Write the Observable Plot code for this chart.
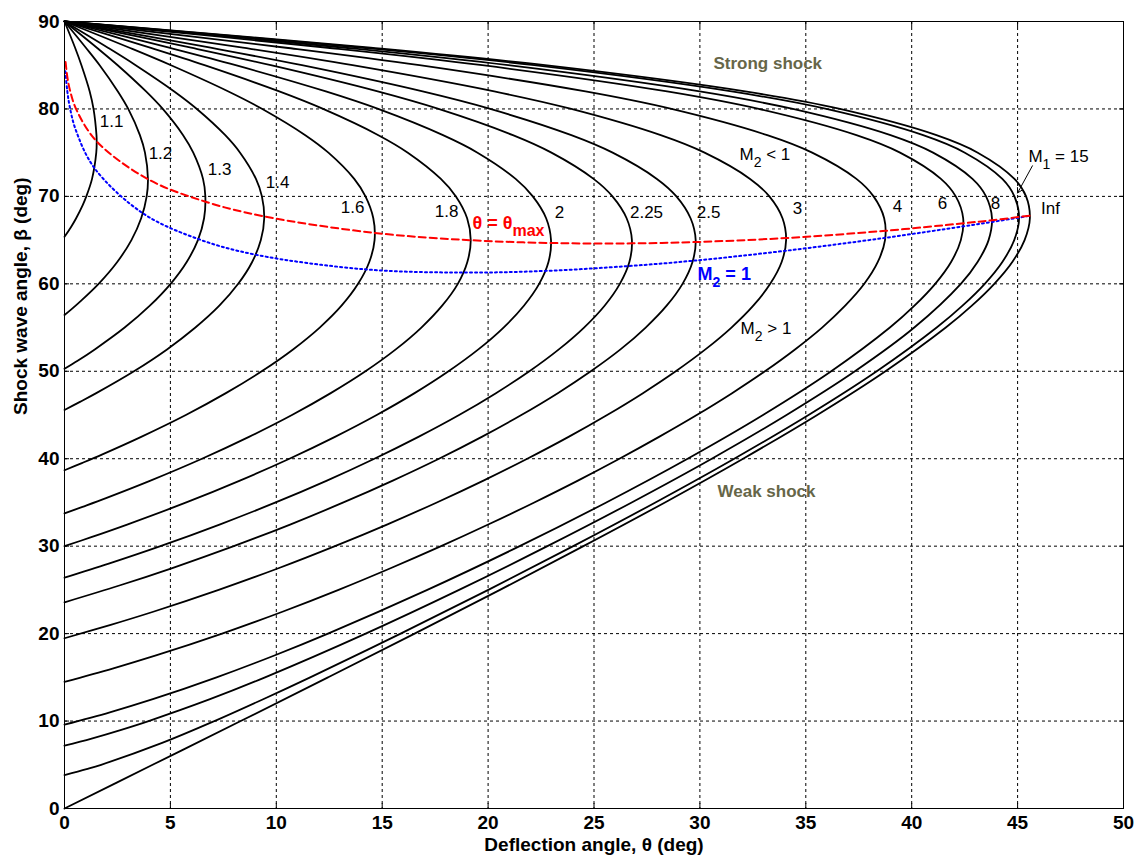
<!DOCTYPE html>
<html>
<head>
<meta charset="utf-8">
<script src="https://cdn.jsdelivr.net/npm/d3@7"></script>
<script src="https://cdn.jsdelivr.net/npm/@observablehq/plot@0.6"></script>
<style>
  html, body { margin: 0; padding: 0; background: #ffffff; }
</style>
</head>
<body>
<div id="chart"></div>
<script>
// ---- Data: oblique-shock curves, [deflection angle θ, shock angle β] pairs ----
const machLabels = ["1.1", "1.2", "1.3", "1.4", "1.6", "1.8", "2", "2.25", "2.5", "3", "4", "6", "8", "15", "Inf"];

const curve_1_1 = [[0,90],[0.50,87],[0.80,85],[1.19,82],[1.37,80],[1.51,77],[1.52,76.3],[1.50,75],[1.30,72],[1.03,70],[0.86,69],[0.55,67.5],[0.31,66.5],[0,65.38]];
const curve_1_2 = [[0,90],[1.01,87],[1.66,85],[2.52,82],[3.01,80],[3.56,77],[3.80,75],[3.94,72],[3.88,70],[3.62,67.5],[3.16,65],[2.49,62.5],[1.61,60],[0.75,58],[0.28,57],[0,56.44]];
const curve_1_3 = [[0,90],[1.53,87],[2.51,85],[3.85,82],[4.64,80],[5.60,77],[6.08,75],[6.54,72],[6.65,70],[6.59,67.5],[6.30,65],[5.77,62.5],[5.01,60],[4.03,57.5],[2.84,55],[1.43,52.5],[0.62,51.2],[0,50.28]];
const curve_1_4 = [[0,90],[2.05,87],[3.36,85],[5.18,82],[6.25,80],[7.59,77],[8.29,75],[9.04,72],[9.32,70],[9.43,67.5],[9.27,65],[8.86,62.5],[8.20,60],[7.31,57.5],[6.18,55],[4.84,52.5],[3.28,50],[1.50,47.5],[0.73,46.5],[0,45.58]];
const curve_1_6 = [[0,90],[3.07,87],[5.03,85],[7.74,82],[9.34,80],[11.37,77],[12.46,75],[13.68,72],[14.21,70],[14.58,67.5],[14.64,65],[14.39,62.5],[13.86,60],[13.08,57.5],[12.05,55],[10.79,52.5],[9.31,50],[7.62,47.5],[5.73,45],[3.62,42.5],[1.79,40.5],[0.82,39.5],[0,38.68]];
const curve_1_8 = [[0,90],[4.04,87],[6.61,85],[10.14,82],[12.21,80],[14.82,77],[16.21,75],[17.77,72],[18.48,70],[19.01,67.5],[19.18,65],[19.02,62.5],[18.57,60],[17.83,57.5],[16.85,55],[15.64,52.5],[14.21,50],[12.57,47.5],[10.74,45],[8.71,42.5],[6.49,40],[4.06,37.5],[1.96,35.5],[0.85,34.5],[0,33.75]];
const curve_2 = [[0,90],[4.94,87],[8.08,85],[12.34,82],[14.81,80],[17.87,77],[19.50,75],[21.30,72],[22.11,70],[22.74,67.5],[22.97,65],[22.85,62.5],[22.41,60],[21.69,57.5],[20.73,55],[19.54,52.5],[18.13,50],[16.53,47.5],[14.74,45],[12.77,42.5],[10.62,40],[8.28,37.5],[5.75,35],[2.99,32.5],[1.23,31],[0,30]];
const curve_2_25 = [[0,90],[5.98,87],[9.74,85],[14.79,82],[17.66,80],[21.17,77],[22.99,75],[24.98,72],[25.87,70],[26.54,67.5],[26.79,65],[26.67,62.5],[26.22,60],[25.50,57.5],[24.53,55],[23.34,52.5],[21.95,50],[20.37,47.5],[18.63,45],[16.71,42.5],[14.63,40],[12.39,37.5],[9.97,35],[7.35,32.5],[4.53,30],[2.09,28],[0,26.39]];
const curve_2_5 = [[0,90],[6.90,87],[11.21,85],[16.91,82],[20.10,80],[23.93,77],[25.88,75],[27.97,72],[28.89,70],[29.56,67.5],[29.80,65],[29.65,62.5],[29.18,60],[28.43,57.5],[27.44,55],[26.25,52.5],[24.85,50],[23.29,47.5],[21.57,45],[19.70,42.5],[17.68,40],[15.50,37.5],[13.17,35],[10.68,32.5],[7.99,30],[5.09,27.5],[2.59,25.5],[0,23.58]];
const curve_3 = [[0,90],[8.42,87],[13.60,85],[20.29,82],[23.93,80],[28.15,77],[30.22,75],[32.37,72],[33.28,70],[33.90,67.5],[34.07,65],[33.86,62.5],[33.32,60],[32.52,57.5],[31.49,55],[30.26,52.5],[28.86,50],[27.31,47.5],[25.62,45],[23.80,42.5],[21.85,40],[19.78,37.5],[17.58,35],[15.25,32.5],[12.77,30],[10.13,27.5],[7.28,25],[4.19,22.5],[2.18,21],[0,19.47]];
const curve_4 = [[0,90],[10.46,87],[16.76,85],[24.60,82],[28.66,80],[33.18,77],[35.30,75],[37.39,72],[38.20,70],[38.70,67.5],[38.74,65],[38.40,62.5],[37.76,60],[36.86,57.5],[35.77,55],[34.49,52.5],[33.07,50],[31.52,47.5],[29.85,45],[28.07,42.5],[26.20,40],[24.24,37.5],[22.18,35],[20.03,32.5],[17.78,30],[15.42,27.5],[12.94,25],[10.29,22.5],[7.44,20],[4.32,17.5],[2.27,16],[0,14.48]];
const curve_6 = [[0,90],[12.43,87],[19.72,85],[28.45,82],[32.78,80],[37.39,77],[39.45,75],[41.38,72],[42.08,70],[42.43,67.5],[42.32,65],[41.86,62.5],[41.11,60],[40.13,57.5],[38.97,55],[36.20,50],[32.98,45],[29.42,40],[25.58,35],[21.49,30],[17.13,25],[12.44,20],[9.91,17.5],[7.18,15],[4.17,12.5],[2.14,11],[0,9.59]];
const curve_8 = [[0,90],[13.26,87],[20.95,85],[29.99,82],[34.39,80],[39.00,77],[41.01,75],[42.87,72],[43.51,70],[43.79,67.5],[43.63,65],[43.11,62.5],[42.32,60],[40.12,55],[37.32,50],[34.09,45],[30.56,40],[26.78,35],[22.80,30],[18.63,25],[14.22,20],[9.47,15],[6.87,12.5],[3.97,10],[2.68,9],[1.28,8],[0,7.18]];
const curve_15 = [[0,90],[14.10,87],[22.18,85],[31.50,82],[35.97,80],[40.54,77],[42.51,75],[44.28,72],[44.85,70],[45.07,67.5],[44.84,65],[44.28,62.5],[43.45,60],[42.40,57.5],[41.18,55],[38.35,50],[35.13,45],[31.62,40],[27.90,35],[24.02,30],[20.01,25],[15.87,20],[11.60,15],[9.38,12.5],[7.08,10],[4.61,7.5],[1.73,5],[1.04,4.5],[0,3.82]];
const curve_inf = [[0,90],[14.46,87],[22.69,85],[32.14,82],[36.61,80],[41.17,77],[43.12,75],[44.85,72],[45.40,70],[45.58,67.5],[45.33,65],[44.75,62.5],[43.90,60],[42.84,57.5],[41.61,55],[38.76,50],[35.54,45],[32.04,40],[28.35,35],[24.50,30],[20.56,25],[16.53,20],[12.44,15],[8.32,10],[4.16,5],[0,0]];

// θ = θmax locus (red dashed) and M2 = 1 locus (blue dotted)
const thetaMaxLocus = [[0.05,85.36],[0.145,83.49],[0.264,82.09],[0.56,79.93],[1.52,76.29],[3.94,71.97],[6.66,69.39],[9.43,67.71],[14.66,65.82],[19.18,64.99],[22.97,64.67],[26.80,64.63],[29.80,64.78],[34.07,65.24],[38.77,66.07],[42.45,66.93],[43.80,67.27],[45.07,67.65],[45.58,67.79]];
const sonicLocus = [[0.04,84.32],[0.133,82.02],[0.243,80.31],[0.52,77.68],[1.41,73.25],[3.70,68.07],[6.32,65.12],[9.03,63.33],[14.24,61.65],[18.84,61.29],[22.70,61.48],[26.61,62.03],[29.67,62.64],[34.00,63.77],[38.75,65.26],[42.44,66.58],[43.79,67.08],[45.06,67.57],[45.58,67.79]];

// Ticks
const xTicks = [0, 5, 10, 15, 20, 25, 30, 35, 40, 45, 50];
const yTicks = [0, 10, 20, 30, 40, 50, 60, 70, 80, 90];

// Curve labels
const curveLabelText  = ["1.1", "1.2", "1.3", "1.4", "1.6", "1.8", "2", "2.25", "2.5", "3", "4", "6", "8", "Inf"];
const curveLabelTheta = [2.22, 4.53, 7.32, 10.06, 13.6, 18.04, 23.37, 27.48, 30.41, 34.61, 39.33, 41.45, 43.96, 46.55];
const curveLabelBeta  = [78.56, 74.9, 73.07, 71.58, 68.7, 68.26, 68.15, 68.15, 68.15, 68.6, 68.83, 69.2, 69.23, 68.6];

// Region notes
const regionText  = ["Strong shock", "Weak shock"];
const regionTheta = [30.64, 30.83];
const regionBeta  = [85.2, 36.2];

// Flow annotations (underscore marks a subscript)
const flowText  = ["M_2 < 1", "M_2 > 1", "M_1 = 15"];
const flowTheta = [31.87, 31.92, 45.51];
const flowBeta  = [74.78, 54.93, 74.6];

const locusText  = ["θ = θ_max", "M_2 = 1"];
const locusTheta = [19.26, 29.89];
const locusBeta  = [66.9, 61.05];
const locusColor = ["#ff0000", "#0000ff"];

const arrowFrom = [45.7, 73.5];
const arrowTo   = [45.0, 70.4];

const xLabel = "Deflection angle, θ (deg)";
const yLabel = "Shock wave angle, β (deg)";

// ---- Build tables ----
const curves = [curve_1_1, curve_1_2, curve_1_3, curve_1_4, curve_1_6, curve_1_8, curve_2, curve_2_25, curve_2_5, curve_3, curve_4, curve_6, curve_8, curve_15, curve_inf];
const curveRows = curves.flatMap((pts, i) => pts.map(([t, b]) => ({theta: t, beta: b, mach: machLabels[i]})));
const redRows = thetaMaxLocus.map(([t, b]) => ({theta: t, beta: b}));
const blueRows = sonicLocus.map(([t, b]) => ({theta: t, beta: b}));
const labelRows = curveLabelText.map((t, i) => ({t, x: curveLabelTheta[i], y: curveLabelBeta[i]}));
const regionRows = regionText.map((t, i) => ({t, x: regionTheta[i], y: regionBeta[i]}));
const flowRows = flowText.map((t, i) => ({t, x: flowTheta[i], y: flowBeta[i]}));
const locusRows = locusText.map((t, i) => ({t, x: locusTheta[i], y: locusBeta[i], c: locusColor[i]}));
const arrowRows = [{x1: arrowFrom[0], y1: arrowFrom[1], x2: arrowTo[0], y2: arrowTo[1]}];

const gridStyle = {stroke: "#000", strokeOpacity: 1, strokeWidth: 1, strokeDasharray: "3,3"};

const chart = Plot.plot({
  width: 1135,
  height: 857,
  marginLeft: 64,
  marginRight: 12,
  marginTop: 21,
  marginBottom: 49,
  x: {domain: [0, 50]},
  y: {domain: [0, 90]},
  style: {fontFamily: "'Liberation Sans', Arial, Helvetica, sans-serif", fontSize: "19px", fontWeight: "bold", background: "#ffffff", color: "#000"},
  marks: [
    Plot.gridX(xTicks, gridStyle),
    Plot.gridY(yTicks, gridStyle),
    Plot.axisX(xTicks, {tickSize: -5, tickPadding: 12, label: null}),
    Plot.axisX(xTicks, {anchor: "top", tickSize: -5, tickFormat: () => "", label: null}),
    Plot.axisY(yTicks, {tickSize: -5, tickPadding: 10, label: null}),
    Plot.axisY(yTicks, {anchor: "right", tickSize: -5, tickFormat: () => "", label: null}),
    Plot.line(curveRows, {x: "theta", y: "beta", z: "mach", curve: "catmull-rom", stroke: "#000", strokeWidth: 1.8}),
    Plot.line(blueRows, {x: "theta", y: "beta", curve: "catmull-rom", stroke: "#0000ff", strokeWidth: 2, strokeDasharray: "2,3"}),
    Plot.line(redRows, {x: "theta", y: "beta", curve: "catmull-rom", stroke: "#ff0000", strokeWidth: 2, strokeDasharray: "7,4"}),
    Plot.frame({stroke: "#000", strokeWidth: 1}),
    Plot.text(labelRows, {x: "x", y: "y", text: "t", fontSize: 17, fontWeight: "normal", fill: "#000"}),
    Plot.text(regionRows, {x: "x", y: "y", text: "t", textAnchor: "start", fontSize: 17, fontWeight: "bold", fill: "#666648"}),
    Plot.text(flowRows, {x: "x", y: "y", text: "t", textAnchor: "start", fontSize: 17, fontWeight: "normal", fill: "#000"}),
    Plot.text(locusRows, {x: "x", y: "y", text: "t", textAnchor: "start", fontSize: 18, fontWeight: "bold", fill: "c"}),
    Plot.arrow(arrowRows, {x1: "x1", y1: "y1", x2: "x2", y2: "y2", stroke: "#000", strokeWidth: 1, headLength: 8}),
    Plot.text([xLabel], {text: d => d, frameAnchor: "bottom", dy: 42, fontSize: 19, fontWeight: "bold", fill: "#000"}),
    Plot.text([yLabel], {text: d => d, frameAnchor: "left", dx: -44, rotate: -90, fontSize: 19, fontWeight: "bold", fill: "#000"})
  ]
});

// Turn "X_sub rest" into real subscripts
const NS = "http://www.w3.org/2000/svg";
chart.querySelectorAll("text").forEach(t => {
  if (t.querySelector("tspan")) return;
  const s = t.textContent;
  const m = s.match(/^(.*?)_(\S+)(.*)$/);
  if (!m) return;
  t.textContent = "";
  const a = document.createElementNS(NS, "tspan");
  a.textContent = m[1];
  t.appendChild(a);
  const b = document.createElementNS(NS, "tspan");
  b.textContent = m[2];
  b.setAttribute("dy", "7");
  b.setAttribute("font-size", m[2].length > 1 ? "16" : "14");
  t.appendChild(b);
  if (m[3]) {
    const c = document.createElementNS(NS, "tspan");
    c.textContent = m[3];
    c.setAttribute("dy", "-7");
    t.appendChild(c);
  }
});

document.getElementById("chart").appendChild(chart);
</script>
</body>
</html>
